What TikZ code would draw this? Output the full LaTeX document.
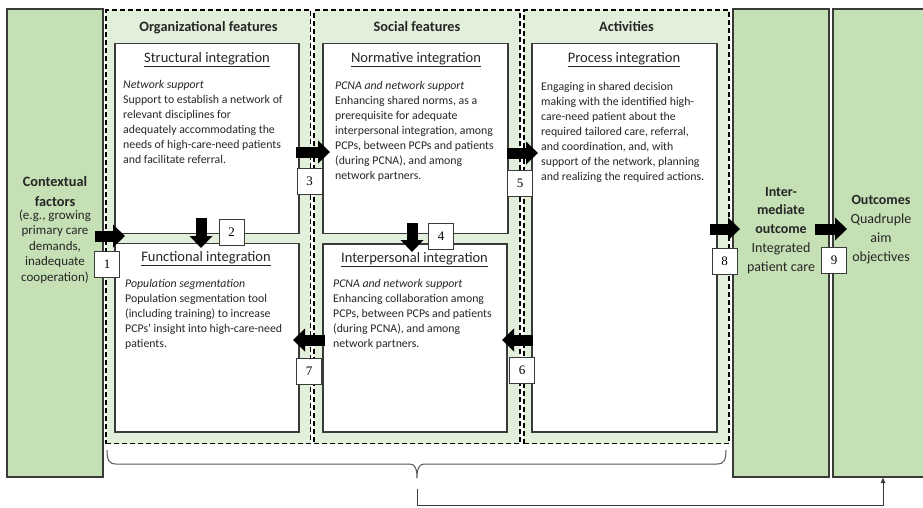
\documentclass[tikz,border=0pt]{standalone}
\usepackage{fontspec}
\setmainfont{Carlito}
\newfontfamily\numfont{Liberation Serif}
\usetikzlibrary{arrows.meta}
\definecolor{panelgreen}{HTML}{E2EFDA}
\definecolor{boxgreen}{HTML}{C5E0B4}
\definecolor{edge}{HTML}{3A3A3A}
\definecolor{ink}{HTML}{262626}
\definecolor{bracegrey}{HTML}{555555}

\begin{document}
\begin{tikzpicture}[x=1pt,y=-1pt,
  every node/.style={text=ink},
  greenbox/.style={draw=edge, line width=1.4pt, fill=boxgreen, anchor=north west, inner sep=0pt, outer sep=0pt},
  panel/.style={draw=black, line width=1.4pt, dash pattern=on 5pt off 3pt, fill=panelgreen, anchor=north west, inner sep=0pt, outer sep=0pt},
  whitebox/.style={draw=edge, line width=1.4pt, fill=white, anchor=north west, inner sep=0pt, outer sep=0pt},
  numbox/.style={draw=edge, line width=0.9pt, fill=white, minimum width=25pt, minimum height=26pt, inner sep=0pt, font=\numfont\fontsize{13}{13}\selectfont, text=black},
  blockarrow/.style={line width=11pt, black, -{Triangle[width=23pt,length=12pt,line width=0pt]}},
  header/.style={font=\bfseries\fontsize{14.3}{17}\selectfont, anchor=base, inner sep=0pt},
  boxtitle/.style={font=\fontsize{14.5}{17}\selectfont, anchor=base, inner sep=0pt},
  body/.style={font=\fontsize{11.8}{15}\selectfont, align=left, anchor=north west, inner sep=0pt},
  sidetext/.style={align=center, anchor=north, inner sep=0pt},
  bracestyle/.style={draw=bracegrey, line width=1pt},
  feedback/.style={draw=edge, line width=1pt, -{Latex[length=6pt,width=5pt]}}
]
\useasboundingbox (0,0) rectangle (923,507);

% dashed feature panels
\node[panel, minimum width=204.5pt, minimum height=433.5pt] (orgpanel) at (106,10) {};
\node[panel, minimum width=206pt, minimum height=433.5pt] (socpanel) at (314,10) {};
\node[panel, minimum width=205pt, minimum height=433.5pt] (actpanel) at (524,10) {};

% context and outcome columns
\node[greenbox, minimum width=96pt, minimum height=468pt] (ctx) at (7,9) {};
\node[greenbox, minimum width=96pt, minimum height=468pt] (inter) at (733,9) {};
\node[greenbox, minimum width=97pt, minimum height=468pt] (outc) at (833,9) {};

% integration boxes
\node[whitebox, minimum width=184pt, minimum height=190pt] (struct) at (115,43.5) {};
\node[whitebox, minimum width=184pt, minimum height=188.5pt] (func) at (115,243.5) {};
\node[whitebox, minimum width=185pt, minimum height=190pt] (norm) at (323,43.5) {};
\node[whitebox, minimum width=184pt, minimum height=188pt] (interp) at (323,244) {};
\node[whitebox, minimum width=185pt, minimum height=388.5pt] (proc) at (532,43.5) {};

% panel headers
\node[header] (hOrg) at (208.5,31) {Organizational features};
\node[header] (hSoc) at (417,31) {Social features};
\node[header] (hAct) at (626.5,31) {Activities};

% box titles
\node[boxtitle] (tStruct) at (207,62) {\underline{Structural integration}};
\node[boxtitle] (tNorm) at (416,62) {\underline{Normative integration}};
\node[boxtitle] (tProc) at (624,62) {\underline{Process integration}};
\node[boxtitle] (tFunc) at (206,261.5) {\underline{Functional integration}};
\node[boxtitle] (tInterp) at (414.5,262) {\underline{Interpersonal integration}};

% box texts
\node[body] (bStruct) at (123,80) {\textit{Network support}\\
Support to establish a network of\\
relevant disciplines for\\
adequately accommodating the\\
needs of high-care-need patients\\
and facilitate referral.};
\node[body] (bNorm) at (335,81) {\textit{PCNA and network support}\\
Enhancing shared norms, as a\\
prerequisite for adequate\\
interpersonal integration, among\\
PCPs, between PCPs and patients\\
(during PCNA), and among\\
network partners.};
\node[body] (bProc) at (541,82) {Engaging in shared decision\\
making with the identified high-\\
care-need patient about the\\
required tailored care, referral,\\
and coordination, and, with\\
support of the network, planning\\
and realizing the required actions.};
\node[body] (bFunc) at (125,279.5) {\textit{Population segmentation}\\
Population segmentation tool\\
(including training) to increase\\
PCPs’ insight into high-care-need\\
patients.};
\node[body] (bInterp) at (333,279.5) {\textit{PCNA and network support}\\
Enhancing collaboration among\\
PCPs, between PCPs and patients\\
(during PCNA), and among\\
network partners.};

% column texts
\node[sidetext, font=\bfseries\fontsize{14.3}{20.5}\selectfont] (ctxHead) at (55,176) {Contextual\\factors};
\node[sidetext, font=\fontsize{13}{15.5}\selectfont] (ctxBody) at (55,209.5) {(e.g., growing\\primary care\\demands,\\inadequate\\cooperation)};
\node[sidetext, font=\fontsize{14}{18.7}\selectfont] (interText) at (781,187) {\textbf{Inter-}\\\textbf{mediate}\\\textbf{outcome}\\Integrated\\patient care};
\node[sidetext, font=\fontsize{14}{19}\selectfont] (outcText) at (881,195) {\textbf{Outcomes}\\Quadruple\\aim\\objectives};

% brace under the three panels
\coordinate (braceL) at (107,450);
\coordinate (braceR) at (726,450);
\coordinate (braceTip) at (417,478);
\draw[bracestyle] (braceL) .. controls (107,460) and (109,464) .. (116,464)
  -- (410,464) .. controls (415,464) and (417,469) .. (braceTip)
  .. controls (417,469) and (419,464) .. (424,464)
  -- (717,464) .. controls (724,464) and (726,460) .. (braceR);

% feedback line to the outcomes
\coordinate (loopStart) at (417,489);
\coordinate (loopCorner) at (883,505.5);
\draw[feedback] (loopStart) |- (loopCorner) -- (loopCorner |- outc.south);

% block arrows
\coordinate (a1s) at (95,236);   \coordinate (a1e) at (125,236);
\coordinate (a2s) at (201,218);  \coordinate (a2e) at (201,248);
\coordinate (a3s) at (296,152);  \coordinate (a3e) at (330,152);
\coordinate (a4s) at (412,223);  \coordinate (a4e) at (412,252);
\coordinate (a5s) at (507,153);  \coordinate (a5e) at (538,153);
\coordinate (a6s) at (533,340);  \coordinate (a6e) at (502,340);
\coordinate (a7s) at (325,340);  \coordinate (a7e) at (293,340);
\coordinate (a8s) at (710,229);  \coordinate (a8e) at (740,229);
\coordinate (a9s) at (815,229);  \coordinate (a9e) at (847,229);
\foreach \k in {1,...,9} {\draw[blockarrow] (a\k s) -- (a\k e);}

% numbered markers
\node[numbox] (n1) at (107,264.5) {1};
\node[numbox] (n2) at (231.5,232.5) {2};
\node[numbox] (n3) at (309.5,181.5) {3};
\node[numbox] (n4) at (441,236.5) {4};
\node[numbox] (n5) at (520,183) {5};
\node[numbox] (n6) at (522,370) {6};
\node[numbox] (n7) at (309,371.5) {7};
\node[numbox] (n8) at (724.5,261) {8};
\node[numbox] (n9) at (834,260) {9};
\end{tikzpicture}
\end{document}
